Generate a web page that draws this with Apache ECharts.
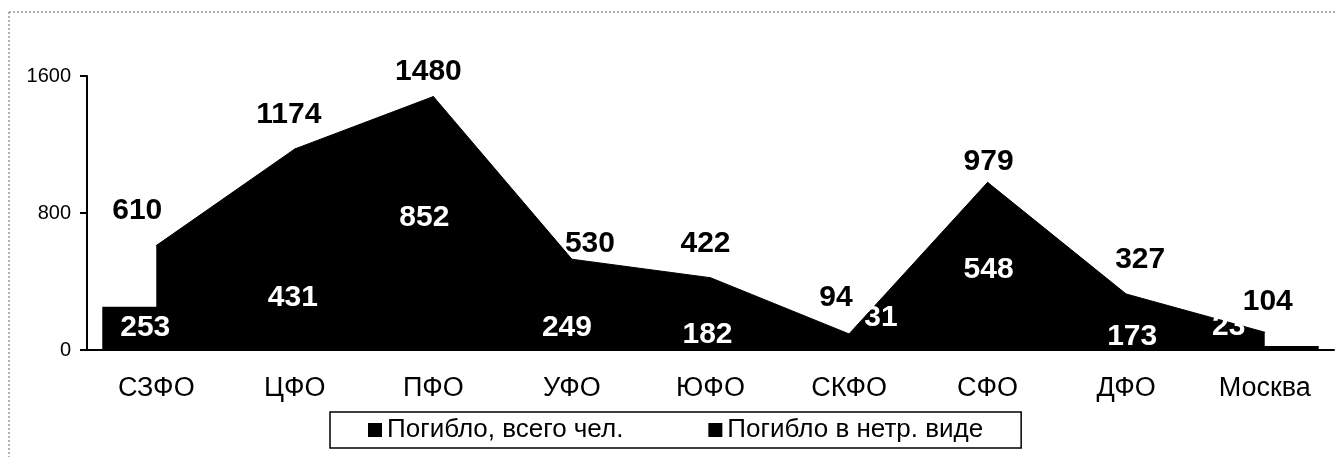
<!DOCTYPE html>
<html>
<head>
<meta charset="utf-8">
<script src="https://cdn.jsdelivr.net/npm/echarts@6/dist/echarts.min.js"></script>
<style>
  html, body { margin: 0; padding: 0; background: #fff; }
  #chart { width: 1336px; height: 457px; }
</style>
</head>
<body>
<div id="chart"></div>
<script>
  const districts = ['СЗФО', 'ЦФО', 'ПФО', 'УФО', 'ЮФО', 'СКФО', 'СФО', 'ДФО', 'Москва']
  const killedTotal = [610, 1174, 1480, 530, 422, 94, 979, 327, 104]
  const killedDrunk = [253, 431, 852, 249, 182, 31, 548, 173, 23]
  const yTicks = [0, 800, 1600]

  // label nudges so the numbers sit where the scan has them
  const totalLabelShift = [[-19, -14], [-6, -14], [-5, -4], [18, 5], [-5, -13], [-13, -16], [1, 0], [14, -14], [3, -10]]
  const drunkLabelShift = [[-11, 6], [-2, 7], [-9, -1], [-5, 5], [-3, 1], [32, -42], [1, -1], [6, 1], [-36, -34]]

  const font = 'Liberation Sans, Arial, sans-serif'
  const chart = echarts.init(document.getElementById('chart'))

  chart.setOption({
    animation: false,
    textStyle: { fontFamily: font },
    grid: { left: 87, right: 2, top: 76, bottom: 107 },
    legend: {
      left: 330,
      top: 412,
      icon: 'rect',
      itemWidth: 14,
      itemHeight: 14,
      itemGap: 85,
      padding: [5, 38, 5, 38],
      borderColor: '#000',
      borderWidth: 1.5,
      textStyle: { fontSize: 26, color: '#000', fontFamily: font },
      data: ['Погибло, всего чел.', 'Погибло в нетр. виде']
    },
    graphic: [
      { type: 'line', shape: { x1: 9, y1: 12, x2: 1336, y2: 12 }, style: { stroke: '#666', lineWidth: 1, lineDash: [2, 2] } },
      { type: 'line', shape: { x1: 9, y1: 12, x2: 9, y2: 457 }, style: { stroke: '#666', lineWidth: 1, lineDash: [2, 2] } }
    ],
    xAxis: {
      type: 'category',
      data: districts,
      boundaryGap: true,
      axisLine: { lineStyle: { color: '#000', width: 2 } },
      axisTick: { length: 8, lineStyle: { color: '#000', width: 2 } },
      axisLabel: { fontSize: 27, color: '#000', margin: 25, fontFamily: font }
    },
    yAxis: {
      type: 'value',
      min: yTicks[0],
      max: yTicks[yTicks.length - 1],
      interval: 800,
      splitLine: { show: false },
      axisLine: { show: true, lineStyle: { color: '#000', width: 2 } },
      axisTick: { show: true, length: 7, lineStyle: { color: '#000', width: 2 } },
      axisLabel: { fontSize: 20, color: '#000', margin: 16, fontFamily: font, formatter: v => String(v) }
    },
    series: [
      {
        name: 'Погибло, всего чел.',
        type: 'line',
        z: 2,
        symbol: 'circle',
        symbolSize: 1,
        showSymbol: true,
        lineStyle: { color: '#000', width: 1 },
        itemStyle: { color: '#000' },
        areaStyle: { color: '#000', opacity: 1 },
        data: killedTotal.map((v, i) => ({
          value: v,
          label: { offset: totalLabelShift[i] }
        })),
        label: {
          show: true,
          position: 'top',
          distance: 5,
          fontSize: 30,
          fontWeight: 'bold',
          color: '#000',
          fontFamily: font
        }
      },
      {
        name: 'Погибло в нетр. виде',
        type: 'bar',
        z: 3,
        barWidth: 108,
        itemStyle: { color: '#000' },
        data: killedDrunk.map((v, i) => ({
          value: v,
          label: { offset: drunkLabelShift[i] }
        })),
        label: {
          show: true,
          position: 'insideTop',
          distance: 0,
          fontSize: 30,
          fontWeight: 'bold',
          color: '#fff',
          fontFamily: font
        }
      }
    ]
  })
</script>
</body>
</html>
